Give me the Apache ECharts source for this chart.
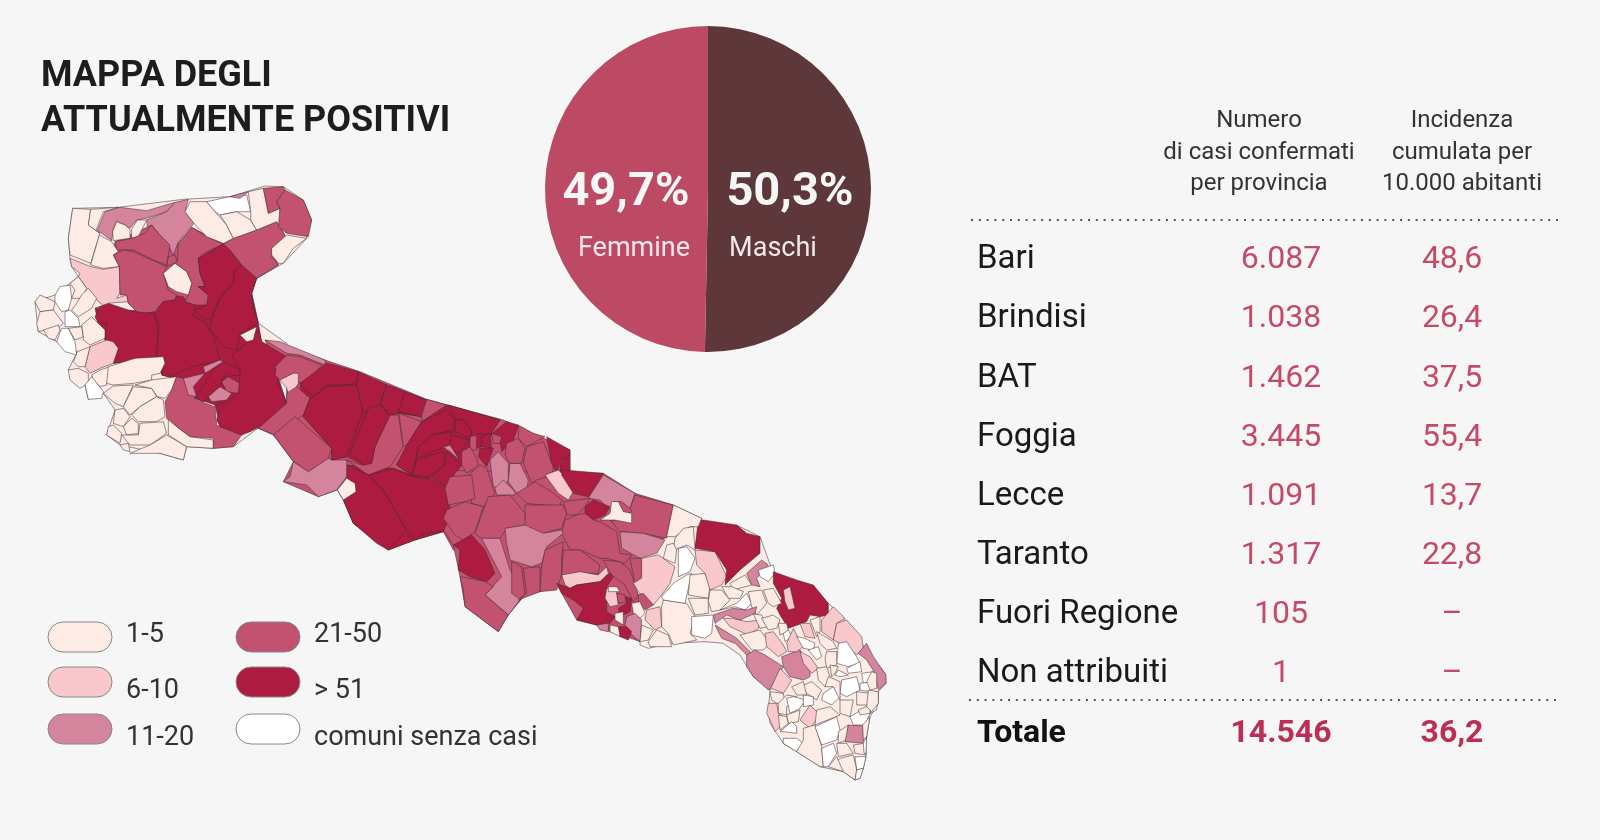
<!DOCTYPE html>
<html lang="it">
<head>
    <meta charset="UTF-8">
    <title>Mappa degli attualmente positivi</title>
    <style>
        html, body { margin: 0; padding: 0; background: #f6f6f6; }
        #main { width: 1600px; height: 840px; }
    </style>
</head>
<body>
<div id="main"></div>
<script src="https://cdn.jsdelivr.net/npm/echarts@6/dist/echarts.min.js"></script>
<script>
// table
const provinceNames = ['Bari', 'Brindisi', 'BAT', 'Foggia', 'Lecce', 'Taranto', 'Fuori Regione', 'Non attribuiti'];
const provinceCases = [6087, 1038, 1462, 3445, 1091, 1317, 105, 1];
const provinceIncidence = [48.6, 26.4, 37.5, 55.4, 13.7, 22.8, null, null];
const totalCases = 14546;
const totalIncidence = 36.2;

// pie
const genderNames = ['Maschi', 'Femmine'];
const genderShares = [50.3, 49.7];

// map classes
const classLabels = ['1-5', '6-10', '11-20', '21-50', '> 51', 'comuni senza casi'];
const classMin = [1, 6, 11, 21, 51, 0];
const classMax = [5, 10, 20, 50, 100000, 0];
const classColors = ['#fdebe5', '#f8c8cd', '#d4849d', '#c25270', '#ad1c40', '#ffffff'];

// base map outlines (x, y pairs, 3x crop units)
const northRings = {
    baseN: [158,115,295,112,490,88,630,80,735,48,790,50,850,90,875,150,860,205,790,280,710,325,695,370,715,460,800,520,760,600,800,700,720,770,640,830,580,835,500,830,490,870,420,850,300,825,260,795,285,720,250,670,205,688,195,645,145,600,172,545,110,515,55,485,45,395,105,375,150,340,175,320,155,290,150,265,145,205],
    base21: [285,215,395,165,475,220,515,172,610,222,710,180,770,155,800,205,755,235,775,285,710,325,640,340,560,405,430,395,370,432,325,400,298,290,280,255],
    baseDark: [225,415,405,425,430,395,525,405,535,265,610,222,665,285,710,325,695,370,715,460,725,515,800,560,765,590,800,700,690,785,600,770,585,705,525,685,445,620,425,615,410,565,280,580,255,510,235,460],
    n1: [158,115,212,118,205,165,240,190,212,280,175,265,150,255,145,205,150,170],
    n2: [212,118,295,112,250,125,228,180,240,190,205,165],
    n3: [232,180,255,125,300,112,380,122,465,97,440,125,380,145,350,150,330,175,315,165,290,155,280,175,275,212],
    n4: [290,155,315,165,330,178,330,205,280,212,278,185],
    n5: [352,150,380,150,355,200,335,205,335,178],
    n6: [380,150,440,125,465,97,505,88,495,125,522,160,495,190,475,215,460,255,445,225,415,190,395,165,382,170],
    n7: [285,215,335,205,375,190,395,165,415,190,450,225,440,285,400,270,340,240,290,240],
    n8: [238,195,275,215,295,245,280,255,298,290,250,295,212,285],
    n9: [150,265,212,290,250,298,298,290,300,370,290,385,320,375,325,395,285,398,265,400,255,410,235,395,220,375,200,355,175,320,180,310,155,290],
    n10: [280,255,310,240,340,245,400,272,440,290,430,310,445,360,470,375,465,390,430,395,400,425,370,432,350,425,325,400,320,375,300,375,298,290],
    n11: [445,260,465,255,472,275,440,290],
    n13: [475,220,515,172,560,200,610,222,550,250,535,265,540,310,555,350,535,350,565,375,565,405,525,405,495,395,505,375,515,340,500,305,465,280,472,275],
    n12: [465,280,500,305,515,340,505,375,470,365,445,350,430,310],
    n14: [535,265,610,222,630,240,665,285,645,300,640,340,600,385,580,420,575,450,550,445,525,420,560,405,565,375,535,350,555,350,540,310],
    n15: [665,285,710,325,695,370,700,410,715,460,660,490,650,540,610,530,600,515,570,480,575,450,600,385,640,340,645,300],
    n16: [610,222,640,205,710,180,770,155,800,205,755,235,755,260,775,285,710,325,665,285,630,240],
    n17: [495,125,510,95,560,95,585,125,620,165,640,205,610,220,560,200,522,160],
    n18: [560,95,630,80,680,75,692,125,650,125,600,135,585,125],
    n19: [600,135,650,125,692,150,710,180,640,205,620,165],
    n20: [630,80,685,65,660,85],
    n21: [685,65,730,55,745,130,780,115,780,170,770,155,710,180,692,150,692,125],
    n22: [730,55,790,50,795,60,770,95,780,115,745,130],
    n23: [795,60,850,90,875,150,865,200,800,190,775,170,780,115,770,95],
    n24: [800,195,860,205,820,235,790,280,775,280,755,255,755,235],
    n25: [45,395,60,375,105,395,100,420,60,425],
    n26: [60,425,100,420,130,460,120,470,55,485,50,460],
    n27: [70,480,115,465,120,480,105,510,85,505],
    n28: [105,375,120,350,150,345,155,385,145,420,125,425,105,395],
    n29: [150,340,175,320,200,355,185,385,155,385,165,360],
    n30: [185,375,205,355,230,385,215,415,175,440,155,420,170,400],
    n31: [135,425,150,420,175,445,180,470,135,470],
    n32: [125,475,145,475,165,515,170,555,135,545,110,515],
    n33: [145,475,185,470,190,500,165,510],
    n34: [185,465,215,440,255,480,255,505,210,525,190,510,190,500],
    n35: [225,415,265,400,340,425,400,430,415,470,410,565,355,570,280,580,295,535,280,515,255,510,260,460,235,460,225,440,240,410],
    n36: [405,425,430,395,465,390,470,378,490,380,500,398,525,405,520,440,555,455,580,500,590,530,600,570,520,590,445,620,425,615,435,565,410,565,415,470],
    n37: [210,530,260,510,280,515,295,535,280,580,240,595,210,610,195,590],
    n38: [172,545,210,530,195,590,175,590,160,575],
    n39: [145,600,175,595,205,610,205,640,180,655,150,630],
    n40: [215,615,240,600,270,590,260,645,240,650,220,630],
    n41: [195,645,215,620,250,665,245,685,205,688],
    n42: [265,590,345,565,430,560,435,580,420,610,395,615,395,630,340,640,280,645,260,640],
    n43: [250,670,280,648,340,645,310,710,285,700],
    n44: [340,650,395,655,410,680,360,710,330,735,310,710],
    n45: [395,630,470,620,455,660,435,685,412,680,395,655,345,645],
    n46: [360,710,410,680,430,690,435,740,410,755,355,755,335,735],
    n47: [285,720,310,715,330,740,310,770,280,760],
    n48: [310,770,335,745,355,760,355,790,320,795],
    n49: [265,770,280,765,305,790,300,820,260,795],
    n50: [305,795,355,795,360,760,430,755,440,790,390,825,330,825],
    n51: [300,825,325,820,330,845,310,840],
    n52: [330,850,390,825,440,795,500,830,490,870,420,850],
    n53: [445,745,470,770,510,800,580,810,580,835,500,830,445,795],
    n54: [470,620,490,625,500,650,530,690,585,710,590,765,600,770,665,795,640,830,580,835,580,805,510,800,470,770,440,745,435,695,455,660],
    n55: [490,625,555,610,520,650,530,680,505,675],
    n56: [550,590,600,570,610,575,555,610],
    n57: [610,575,660,600,660,615,610,620,590,665,550,695,525,685,555,640,575,605],
    n58: [605,635,625,620,660,640,655,670,620,665],
    n59: [565,680,600,650,625,665,635,670,620,690,575,695],
    n60: [650,545,690,510,715,480,725,515,800,560,765,590,775,640,800,700,740,760,690,785,665,795,600,770,590,750,600,720,585,705,620,695,655,670,660,620,660,600,635,555],
    n61: [660,495,710,470,700,510,680,515]
};
const centreRings = {
    baseC: [45,0,225,60,330,95,530,178,760,240,960,330,960,500,920,630,610,630,580,575,495,600,415,630,310,550,280,480,262,450,205,470,100,425,130,365,70,285,25,265,110,190,110,100,80,75],
    baseC2: [150,130,250,75,530,180,515,230,445,220,420,225,375,320,340,375,290,350,245,360,245,325,160,230],
    baseC3: [290,375,430,385,585,440,605,515,580,575,495,600,415,630,310,550,280,480,320,450],
    baseC4: [515,245,590,195,750,240,690,325,660,320,635,375,585,440,485,405,440,375],
    c1: [80,75,110,45,150,50,215,75,180,115,150,130,130,100,90,120,75,105],
    c1b: [45,0,90,5,225,60,225,75,150,45,110,40],
    c2: [90,120,130,100,145,100,145,130,120,175,110,145],
    c3: [25,265,110,190,110,160,140,140,180,175,160,225,75,285],
    c4: [150,130,230,70,250,75,325,95,318,130,290,135,230,135,190,170,165,150],
    c5: [190,170,230,140,320,135,340,210,290,350,245,360,245,325,160,230,180,175],
    c5b: [70,285,135,230,245,325,235,355,175,395,130,365,90,310],
    c6: [325,95,410,135,395,175,390,195,340,220,320,135],
    c7: [410,135,465,155,445,220,420,225,390,190],
    c8: [465,155,530,180,515,230,445,215],
    c9: [530,178,590,195,515,245,515,225],
    c11: [420,225,445,225,460,320,420,380,355,405,290,360,335,375,365,370,375,320],
    c10: [355,205,390,195,420,225,375,320,365,370,340,375,300,340,335,255],
    c12: [447,220,515,245,470,315,460,320],
    c13: [515,245,590,210,615,240,610,270,545,285,505,320,495,370,485,405,440,375,470,315],
    c14: [595,195,750,240,720,285,680,280,660,300,665,270,640,240,615,235],
    c15: [615,240,640,240,665,270,660,295,615,275],
    c16: [605,285,660,300,625,340,605,330,580,318],
    c17: [505,320,545,285,605,275,600,315,500,355],
    c18: [500,360,580,335,585,375,540,410,485,405],
    c19: [590,335,635,375,600,420,585,440,540,410,585,375],
    c20: [580,322,600,315,628,360,600,335],
    c21: [290,375,355,405,400,450,435,510,470,570,415,630,380,610,310,550,280,480,320,450,290,415],
    c21b: [355,405,430,385,485,410,540,415,585,440,590,470,605,515,580,575,520,580,495,600,470,570,435,510,400,450],
    c22: [130,365,175,395,235,355,245,360,290,360,290,410,260,450,205,470,170,435,100,425,120,410],
    c23: [290,415,315,430,318,455,280,480,262,450],
    c24: [720,285,770,245,805,255,790,300,755,335,750,300],
    c25: [695,290,720,280,725,325,695,320],
    c26: [690,325,730,325,710,380,685,350],
    c28: [725,280,755,290,750,310,730,310],
    c29: [660,290,680,285,680,330,660,330],
    c30: [635,335,660,320,680,355,685,375,650,400,635,375],
    c31: [650,410,690,375,710,385,735,460,700,500,665,490,660,440],
    c32: [720,360,745,335,775,370,775,420,755,445,730,440],
    c33: [780,370,810,370,835,420,830,450,800,460,775,425],
    c34: [735,445,760,420,795,455,795,465,740,465],
    c35: [770,310,805,295,825,325,815,370,780,370,765,345],
    c36: [805,255,850,280,885,290,830,320,805,295],
    c37: [830,320,880,305,910,380,905,405,860,420,845,430,820,370],
    c38: [890,290,960,330,960,345,930,365,920,400,905,370],
    c39: [930,370,960,345,960,420,930,395]
};
const southRings = {
    baseM: [0,0,520,10,615,70,730,105,710,205,680,250,635,265,610,340,625,375,645,420,630,515,590,500,540,485,500,465,440,450,395,370,380,340,330,365,285,375,235,435,205,485,105,410,90,320,70,225,40,180,0,180],
    s1: [345,15,385,0,395,10,430,65,415,90,385,70],
    s2: [400,0,520,10,475,80,430,70,395,15],
    s3: [520,15,615,70,600,115,575,95,550,95,540,120,510,90,475,85],
    s4: [615,75,730,105,710,205,640,190,570,185,540,150,545,155,605,125,600,115],
    s5: [545,95,565,95,580,125,605,130,605,160,555,150,510,150,540,130],
    s6: [465,110,490,90,540,110,525,135,490,150,465,130],
    s7: [400,95,480,85,465,110,440,135,410,135],
    s8: [405,150,440,135,465,130,490,150,510,155,560,185,570,250,605,255,585,280,530,265,510,265,450,240,420,240,395,190],
    s9: [570,185,640,190,705,210,680,250,630,265,575,235],
    s10: [260,70,315,35,365,65,395,90,390,110,290,100],
    s11: [285,105,400,105,410,130,395,175,340,190,280,180,285,140],
    s12: [40,145,50,120,105,95,160,110,135,185,100,210,75,195],
    s14: [135,190,160,120,175,80,240,75,285,130,285,165,230,175,210,205,155,205],
    s15: [45,55,60,20,125,15,135,85,105,95,55,105],
    s16: [225,175,285,165,340,190,395,180,400,190,350,230,335,280,305,290,240,270,230,220],
    s17: [155,205,210,205,240,300,285,370,235,435,165,375,215,320],
    s18: [70,225,125,195,165,240,195,310,170,335,120,320,85,300,90,240],
    s19: [90,320,120,325,165,335,190,350,165,375,235,435,205,485,165,455,105,410,100,360],
    s20: [245,275,275,290,285,375,265,385,245,370],
    s21: [280,295,330,290,330,365,265,390,290,370],
    s22: [345,240,400,215,395,260,395,315,380,360,330,365,335,290],
    s23: [400,240,450,240,510,285,505,310,450,310,395,315],
    s24: [395,315,450,305,505,315,530,290,535,310,510,335,440,345,420,355,405,345],
    s25: [380,340,420,355,440,345,510,335,540,310,550,320,530,350,530,425,555,440,540,460,500,465,440,450,460,415,430,390,395,370],
    s26: [520,270,570,275,600,300,625,375,610,395,585,345,545,315,530,290],
    s28: [600,265,635,265,635,320,615,340],
    s29: [635,265,685,255,735,290,720,340,695,375,670,405,625,365,610,340,635,325],
    s30: [625,375,640,370,670,405,645,420,625,395],
    s31: [530,355,560,365,565,405,540,410,525,385],
    s32: [560,370,585,375,590,395,565,400],
    s33: [585,380,605,385,600,425,570,440,565,415,590,400],
    s34: [535,350,560,350,570,365,535,365],
    s35: [555,430,580,425,580,465,555,450],
    s36: [605,400,630,395,645,430,630,445,610,430],
    s37: [590,440,615,430,635,450,630,515,600,490,585,465],
    s38: [565,470,590,470,605,485,595,510,570,500],
    s39: [500,465,535,460,535,485,510,480],
    s40: [540,465,565,470,570,500,540,485],
    s41: [635,465,670,480,655,510,630,515],
    s42: [650,420,690,410,695,470,675,480,645,450],
    s43: [655,515,680,480,715,495,725,530,660,530]
};
const salentoRings = {
    baseS: [565,190,610,235,665,310,695,350,735,400,738,430,715,455,715,490,690,530,678,600,678,650,670,685,660,715,645,720,610,695,540,680,470,635,430,610,410,580,390,550,385,510,390,450,340,410,300,345,250,310,195,305,90,310,25,325,0,315,0,40,80,-10,100,-105,185,-65,165,25,290,-45,360,-10,400,100],
    s44: [65,200,70,180,140,190,165,230,150,280,170,300,100,315,85,280,65,260],
    s45: [155,230,220,225,215,280,195,295,155,285],
    s46: [65,170,100,130,140,105,155,100,145,145,135,190,70,180],
    s47: [150,105,195,100,210,140,205,175,145,165],
    s48: [145,175,205,175,205,220,165,225],
    s49: [165,30,225,35,260,110,245,135,210,150,195,100,170,75],
    s50: [175,-60,190,-60,290,-45,320,-20,360,-10,360,40,300,90,255,135,260,90,225,35,165,25],
    s51: [115,25,140,20,165,55,150,95,115,110,115,70],
    s52: [100,-105,185,-65,175,-40,150,-40,120,-20,105,-10,80,-10],
    s53: [105,-5,130,-35,160,-40,165,30,140,15,115,25,100,30],
    s54: [80,15,100,10,110,30,105,70,70,55],
    z2: [320,100,365,60,385,75,350,115,360,140,335,135],
    z3: [355,90,400,75,405,100,385,125,360,110],
    z4: [400,95,470,120,520,135,565,190,565,225,540,230,510,225,500,245,445,265,420,225,410,205,425,175,400,130],
    z5: [430,150,450,140,465,205,445,210,435,185],
    z7: [270,130,315,105,335,135,280,150],
    z8: [245,140,275,140,310,155,300,175,265,175],
    z9: [210,150,245,150,270,180,240,210,215,215,205,185],
    z10: [240,210,290,190,320,160,335,190,315,210,285,200],
    z11: [325,155,365,150,380,190,350,225,335,200],
    z12: [370,150,400,145,425,190,400,200,385,190],
    z13: [220,225,280,205,320,210,350,200,345,220,300,240,260,225,225,250],
    z14: [250,235,275,235,320,245,360,240,355,265,325,285,270,260],
    z15: [340,222,365,225,385,260,360,265],
    z16: [365,235,400,225,420,240,410,265,385,270],
    z17: [225,255,250,270,290,295,335,340,320,345,285,310,245,295],
    z18: [300,285,360,270,390,310,370,330,335,330],
    z19: [375,280,400,275,430,315,440,335,415,350,380,320],
    z20: [320,345,345,330,375,345,430,380,410,415,385,450,340,410,320,380],
    z21: [425,350,480,330,510,380,510,410,490,420,450,410,430,380],
    z22: [390,450,420,385,455,420,440,445,430,460,395,445],
    z23: [390,455,430,460,435,490,410,490,395,480],
    z24: [385,490,410,490,415,520,440,540,405,575,395,550,380,520],
    z25: [415,250,440,250,445,275,420,285],
    z26: [430,280,445,270,455,290,435,305],
    z27: [440,310,460,265,470,285,490,320,470,335,445,335],
    z28: [470,290,495,295,525,310,520,330,490,325],
    z29: [505,330,535,320,545,350,530,360],
    z30: [480,250,510,250,525,295,495,290],
    z31: [510,240,540,230,540,275,530,290],
    z32: [545,240,580,200,615,235,590,250,580,300,545,275],
    z33: [590,250,620,240,665,290,670,325,650,345,620,320,580,300],
    z34: [530,275,580,305,590,325,560,330,540,310],
    z35: [595,310,620,305,650,350,660,370,625,380,590,370],
    z36: [655,340,680,310,700,350,738,405,738,430,715,450,705,400,680,360],
    z37: [480,335,510,350,535,385,515,400,490,370],
    z38: [560,335,590,335,590,375,560,385,555,355],
    z39: [620,385,660,365,665,395,625,400],
    z40: [530,385,560,380,570,410,555,440,535,420],
    z41: [595,390,625,405,600,410,585,405],
    z42: [570,375,595,380,585,400,575,410],
    z43: [665,400,700,395,695,425,670,430],
    z44: [480,440,515,425,545,450,530,480,500,460],
    z45: [550,460,580,440,600,470,575,495,545,480],
    z46: [415,490,440,465,470,470,470,495,440,500,440,525,415,520],
    z47: [440,475,460,470,480,475,495,480,480,505,450,520],
    z48: [455,440,490,425,500,465,470,465],
    z49: [490,465,520,470,520,495,490,500],
    z50: [510,495,540,525,510,565,480,540],
    z51: [440,525,480,510,475,545,445,550],
    z52: [415,525,440,530,445,550,420,570],
    z53: [420,575,455,545,470,560,470,580,430,575],
    z54: [430,595,470,595,490,610,470,635,430,610],
    z55: [490,565,525,555,545,620,550,680,540,680,470,635,490,600],
    z56: [525,560,590,530,600,570,590,600,545,615],
    z57: [545,625,580,610,590,640,565,680,550,680],
    z58: [530,510,570,500,600,525,525,555],
    z59: [595,575,625,555,620,600,595,610],
    z60: [625,555,670,558,670,610,615,605],
    z61: [590,610,620,610,640,640,595,650],
    z62: [640,615,672,610,678,645,645,640],
    z63: [645,650,678,650,670,685,650,690],
    z64: [600,655,640,645,650,690,645,720,610,695,575,680],
    z65: [565,680,590,650,610,695],
    z66: [650,690,670,685,660,715,645,720],
    z67: [600,480,640,480,630,530,600,520],
    z68: [605,420,650,410,660,450,620,470,600,460],
    z69: [650,455,690,460,690,495,650,495],
    z70: [660,430,700,425,690,455,660,450],
    z71: [700,455,715,455,710,510,690,520,695,490],
    z72: [630,530,665,510,690,520,675,555,640,555],
    z73: [655,510,690,495,690,520,660,525],
    z74: [565,410,600,425,600,480,580,440,555,440],
    z76: [668,555,690,530,680,590,670,600],
    z77: [670,610,680,590,678,640,672,640],
    z78: [685,450,715,455,715,490,695,515,680,500],
    z79: [695,395,710,400,710,445,690,450,680,425]
};

// cases per commune, estimated from the fill class
const northValues = { baseN: 3, base21: 35, baseDark: 80, n1: 3, n2: 3, n3: 15, n4: 3, n5: 3, n6: 15, n7: 35, n8: 3, n9: 8, n10: 35, n11: 35, n13: 35, n12: 3, n14: 80, n15: 90, n16: 35, n17: 3, n18: 0, n19: 3, n20: 15, n21: 3, n22: 35, n23: 35, n24: 3, n25: 3, n26: 3, n27: 3, n28: 0, n29: 3, n30: 3, n31: 0, n32: 0, n33: 3, n34: 3, n35: 90, n36: 200, n37: 8, n38: 3, n39: 3, n40: 3, n41: 0, n42: 3, n43: 3, n44: 3, n45: 3, n46: 3, n47: 3, n48: 3, n49: 3, n50: 3, n51: 3, n52: 3, n53: 3, n54: 35, n55: 15, n56: 15, n57: 60, n58: 35, n59: 15, n60: 200, n61: 3 };
const centreValues = { baseC: 35, baseC2: 80, baseC3: 80, baseC4: 80, c1: 35, c1b: 15, c2: 8, c3: 35, c4: 150, c5: 300, c5b: 35, c6: 120, c7: 90, c8: 80, c9: 35, c11: 35, c10: 70, c12: 35, c13: 120, c14: 800, c15: 70, c16: 60, c17: 70, c18: 80, c19: 90, c20: 15, c21: 120, c21b: 200, c22: 15, c23: 3, c24: 70, c25: 60, c26: 60, c28: 35, c29: 35, c30: 35, c31: 35, c32: 15, c33: 15, c34: 15, c35: 35, c36: 35, c37: 35, c38: 90, c39: 60 };
const southValues = { baseM: 35, s1: 8, s2: 70, s3: 15, s4: 35, s5: 3, s6: 60, s7: 35, s8: 35, s9: 15, s10: 35, s11: 35, s12: 35, s14: 35, s15: 35, s16: 15, s17: 15, s18: 70, s19: 35, s20: 35, s21: 35, s22: 35, s23: 35, s24: 8, s25: 300, s26: 35, s28: 35, s29: 8, s30: 35, s31: 8, s32: 35, s33: 60, s34: 3, s35: 3, s36: 3, s37: 15, s38: 55, s39: 15, s40: 3, s41: 3, s42: 8, s43: 3 };
const salentoValues = { baseS: 3, s44: 3, s45: 0, s46: 0, s47: 3, s48: 3, s49: 8, s50: 150, s51: 0, s52: 3, s53: 3, s54: 3, z2: 15, z3: 0, z4: 120, z5: 8, z7: 3, z8: 3, z9: 3, z10: 0, z11: 3, z12: 3, z13: 15, z14: 8, z15: 3, z16: 3, z17: 15, z18: 3, z19: 8, z20: 15, z21: 15, z22: 8, z23: 3, z24: 8, z25: 3, z26: 0, z27: 8, z28: 0, z29: 0, z30: 8, z31: 3, z32: 8, z33: 8, z34: 3, z35: 0, z36: 15, z37: 8, z38: 3, z39: 0, z40: 3, z41: 0, z42: 3, z43: 0, z44: 3, z45: 0, z46: 3, z47: 0, z48: 3, z49: 0, z50: 8, z51: 3, z52: 3, z53: 0, z54: 0, z55: 3, z56: 0, z57: 0, z58: 3, z59: 3, z60: 15, z61: 3, z62: 3, z63: 0, z64: 3, z65: 3, z66: 0, z67: 3, z68: 0, z69: 3, z70: 0, z71: 3, z72: 0, z73: 3, z74: 3, z76: 3, z77: 0, z78: 3, z79: 3 };
const communeValues = Object.assign({}, northValues, centreValues, southValues, salentoValues);

const FONT = 'Roboto';
const RED = '#c44a68';

// crop units -> page pixels, y flipped because geo treats it as latitude
function makeFeatures(rings, ox, oy) {
    return Object.keys(rings).map(function (id) {
        const flat = rings[id], ring = [];
        for (let i = 0; i < flat.length; i += 2) {
            ring.push([ox + flat[i] / 3, 840 - (oy + flat[i + 1] / 3)]);
        }
        ring.push(ring[0]);
        return { type: 'Feature', properties: { name: id }, geometry: { type: 'Polygon', coordinates: [ring] } };
    });
}

const allFeatures = [].concat(
    makeFeatures(northRings, 20, 170),
    makeFeatures(centreRings, 250, 340),
    makeFeatures(southRings, 430, 470),
    makeFeatures(salentoRings, 640, 540)
);
function isBase(f) { return f.properties.name.indexOf('base') === 0; }
// the filler shapes go first so that every commune paints over them
echarts.registerMap('puglia', {
    type: 'FeatureCollection',
    features: allFeatures.filter(isBase).concat(allFeatures.filter(function (f) { return !isBase(f); }))
});

function fmtCases(v) {
    return String(v).replace(/\B(?=(\d{3})+$)/g, '.');
}
function fmtDec(v) {
    return v === null ? '–' : v.toFixed(1).replace('.', ',');
}
function label(x, y, text, size, color, align, weight) {
    return {
        type: 'text', silent: true, z: 100, x: x, y: y,
        style: {
            text: text, fill: color, align: align || 'left', verticalAlign: 'middle',
            font: (weight || 'normal') + ' ' + size + 'px ' + FONT
        }
    };
}
function dots(x1, x2, y) {
    return {
        type: 'line', silent: true, z: 100,
        shape: { x1: x1, y1: y, x2: x2, y2: y },
        style: { stroke: '#555', lineWidth: 2, lineDash: [2, 5.8] }
    };
}

const rowY = [260, 319, 378.5, 437.5, 497, 556, 615, 674];
const graphics = [
    label(41, 77, 'MAPPA DEGLI', 36, '#1d1d1b', 'left', 'bold'),
    label(41, 122, 'ATTUALMENTE POSITIVI', 36, '#1d1d1b', 'left', 'bold'),
    label(626, 193, fmtDec(genderShares[1]) + '%', 47, '#f6f6f6', 'center', 'bold'),
    label(790, 193, fmtDec(genderShares[0]) + '%', 47, '#f6f6f6', 'center', 'bold'),
    label(634, 249, genderNames[1], 27, '#f6e6ea', 'center'),
    label(773, 249, genderNames[0], 27, '#f0e8ea', 'center'),
    label(1259, 121, 'Numero', 24, '#333', 'center'),
    label(1259, 153, 'di casi confermati', 24, '#333', 'center'),
    label(1259, 184, 'per provincia', 24, '#333', 'center'),
    label(1462, 121, 'Incidenza', 24, '#333', 'center'),
    label(1462, 153, 'cumulata per', 24, '#333', 'center'),
    label(1462, 184, '10.000 abitanti', 24, '#333', 'center'),
    dots(971, 1561, 220),
    dots(969, 1559, 700),
    label(977, 734, 'Totale', 32, '#111', 'left', 'bold'),
    label(1281, 734, fmtCases(totalCases), 32, '#bb2f55', 'center', 'bold'),
    label(1452, 734, fmtDec(totalIncidence), 32, '#bb2f55', 'center', 'bold')
];
provinceNames.forEach(function (name, i) {
    graphics.push(label(977, rowY[i], name, 33, '#1a1a1a'));
    graphics.push(label(1281, rowY[i], fmtCases(provinceCases[i]), 32, RED, 'center'));
    graphics.push(label(1452, rowY[i], fmtDec(provinceIncidence[i]), 32, RED, 'center'));
});

// legend pills, two columns
const pillX = [48, 236, 48, 236, 48, 236];
const pillY = [622, 622, 667, 667, 714, 714];
const legendTextY = [635, 635, 691, 691, 738, 738];
[0, 3, 1, 4, 2, 5].forEach(function (cls, i) {
    graphics.push({
        type: 'rect', silent: true, z: 100,
        shape: { x: pillX[i], y: pillY[i], width: 64, height: 30, r: 15 },
        style: { fill: classColors[cls], stroke: '#888', lineWidth: 1 }
    });
    graphics.push(label(pillX[i] + 78, legendTextY[i], classLabels[cls], 27, '#333'));
});

const chart = echarts.init(document.getElementById('main'));
chart.setOption({
    backgroundColor: '#f6f6f6',
    animation: false,
    visualMap: {
        show: false,
        type: 'piecewise',
        seriesIndex: 0,
        pieces: classMin.map(function (min, i) {
            return { min: min, max: classMax[i], color: classColors[i] };
        })
    },
    series: [
        {
            type: 'map',
            map: 'puglia',
            silent: true,
            roam: false,
            aspectScale: 1,
            boundingCoords: [[0, 840], [1600, 0]],
            layoutCenter: [800, 420],
            layoutSize: 1600,
            label: { show: false },
            itemStyle: { borderColor: 'rgba(60,45,50,0.75)', borderWidth: 0.7 },
            data: Object.keys(communeValues).map(function (id) {
                return { name: id, value: communeValues[id] };
            })
        },
        {
            type: 'pie',
            silent: true,
            center: [708, 189],
            radius: [0, 163],
            startAngle: 90,
            label: { show: false },
            labelLine: { show: false },
            data: genderNames.map(function (name, i) {
                return { name: name, value: genderShares[i], itemStyle: { color: ['#5e373b', '#bc4a64'][i] } };
            })
        }
    ],
    graphic: graphics
});
</script>
</body>
</html>
